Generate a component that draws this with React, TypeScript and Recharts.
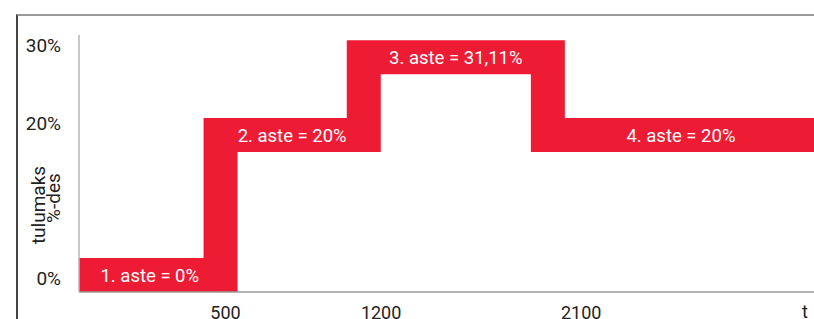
import React from 'react';
import { ComposedChart, Line, Scatter, XAxis, YAxis } from 'recharts';

// Stage boundaries on the time axis (t) and the tax rate of each stage (%)
const stageBreaks = [500, 1200, 2100];
const stageRates = [0, 20, 31.11, 20];
const stageNames = ['1. aste = 0%', '2. aste = 20%', '3. aste = 31,11%', '4. aste = 20%'];

// axis ticks
const xTicks = [500, 1200, 2100];
const yTicks = [0, 20, 30];
const yTickLabels = ['0%', '20%', '30%'];
const xEndLabel = 't';
const yTitleLines = ['tulumaks', '%-des'];

// axis ranges (schematic drawing)
const bandTDomain: [number, number] = [-192, 3401];
const bandRateDomain: [number, number] = [-2.43, 34.29];
const labelTDomain: [number, number] = [-159, 3147];
const labelRateDomain: [number, number] = [-1.82, 31.36];

const FONT = 'Roboto, "Noto Sans", sans-serif';
const RED = '#ED1C34';

const bounds = [bandTDomain[0], ...stageBreaks, bandTDomain[1]];
const bandData = [
  ...stageRates.map((r, i) => ({ t: bounds[i], rate: r })),
  { t: bounds[bounds.length - 1], rate: stageRates[stageRates.length - 1] },
];
const labelData = stageRates.map((r, i) => ({
  t: (bounds[i] + bounds[i + 1]) / 2,
  rate: r,
  name: stageNames[i],
}));
const tickData = yTicks.map((v, i) => ({ t: xTicks[i], rate: v }));

const StageLabel = (props: any) => {
  const { cx, cy, payload } = props;
  return (
    <text x={cx} y={cy} dy="0.36em" textAnchor="middle" fill="#fff" fontSize={18.5} fontFamily={FONT}>
      {payload.name}
    </text>
  );
};

const YTitle = () => (
  <g fill="#222" fontSize={19} fontFamily={FONT}>
    <text x={45} y={205} textAnchor="middle" transform="rotate(-90 45 205)">{yTitleLines[0]}</text>
    <text x={59.5} y={198} textAnchor="middle" transform="rotate(-90 59.5 198)">{yTitleLines[1]}</text>
  </g>
);

const XEnd = (props: any) => {
  const vb = props.viewBox || {};
  return (
    <text x={vb.x + vb.width - 6} y={vb.y + 26} textAnchor="end" fill="#222" fontSize={18} fontFamily={FONT}>
      {xEndLabel}
    </text>
  );
};

export default function App() {
  return (
    <div style={{ position: 'absolute', left: 0, top: 0, width: 814, height: 319, overflow: 'hidden', background: '#fff' }}>
      <div
        style={{
          position: 'absolute',
          left: 16,
          top: 14,
          width: 900,
          height: 400,
          borderTop: '2px solid #9a9a9a',
          borderLeft: '2px solid #444',
        }}
      />
      <div style={{ position: 'absolute', left: 0, top: 0 }}>
        <ComposedChart width={814} height={340} margin={{ top: 35, right: 0, bottom: 0, left: 0 }}>
          <XAxis
            xAxisId="lbl"
            type="number"
            dataKey="t"
            domain={labelTDomain}
            allowDataOverflow
            ticks={xTicks}
            interval={0}
            height={48}
            tickLine={false}
            tickSize={0}
            tickMargin={14}
            axisLine={{ stroke: '#9a9a9a', strokeWidth: 1.5 }}
            tick={{ fill: '#222', fontSize: 18, fontFamily: FONT }}
            label={<XEnd />}
          />
          <XAxis
            xAxisId="band"
            type="number"
            dataKey="t"
            domain={bandTDomain}
            allowDataOverflow
            height={0}
            hide
          />
          <YAxis
            yAxisId="lbl"
            type="number"
            domain={labelRateDomain}
            allowDataOverflow
            ticks={yTicks}
            interval={0}
            width={79}
            tickLine={false}
            tickSize={0}
            tickMargin={18}
            tickFormatter={(v: number) => yTickLabels[yTicks.indexOf(v)] ?? `${v}%`}
            axisLine={{ stroke: '#b5b5b5', strokeWidth: 1.5 }}
            tick={{ fill: '#222', fontSize: 19, fontFamily: FONT }}
            label={<YTitle />}
          />
          <YAxis
            yAxisId="band"
            type="number"
            domain={bandRateDomain}
            allowDataOverflow
            width={0}
            hide
          />
          <Line
            xAxisId="lbl"
            yAxisId="lbl"
            data={tickData}
            dataKey="rate"
            stroke="none"
            dot={false}
            activeDot={false}
            legendType="none"
            isAnimationActive={false}
          />
          <Line
            xAxisId="band"
            yAxisId="band"
            data={bandData}
            dataKey="rate"
            type="stepAfter"
            stroke={RED}
            strokeWidth={34}
            strokeLinejoin="miter"
            strokeLinecap="butt"
            dot={false}
            activeDot={false}
            isAnimationActive={false}
          />
          <Scatter
            xAxisId="band"
            yAxisId="band"
            data={labelData}
            dataKey="rate"
            shape={<StageLabel />}
            isAnimationActive={false}
          />
        </ComposedChart>
      </div>
    </div>
  );
}
